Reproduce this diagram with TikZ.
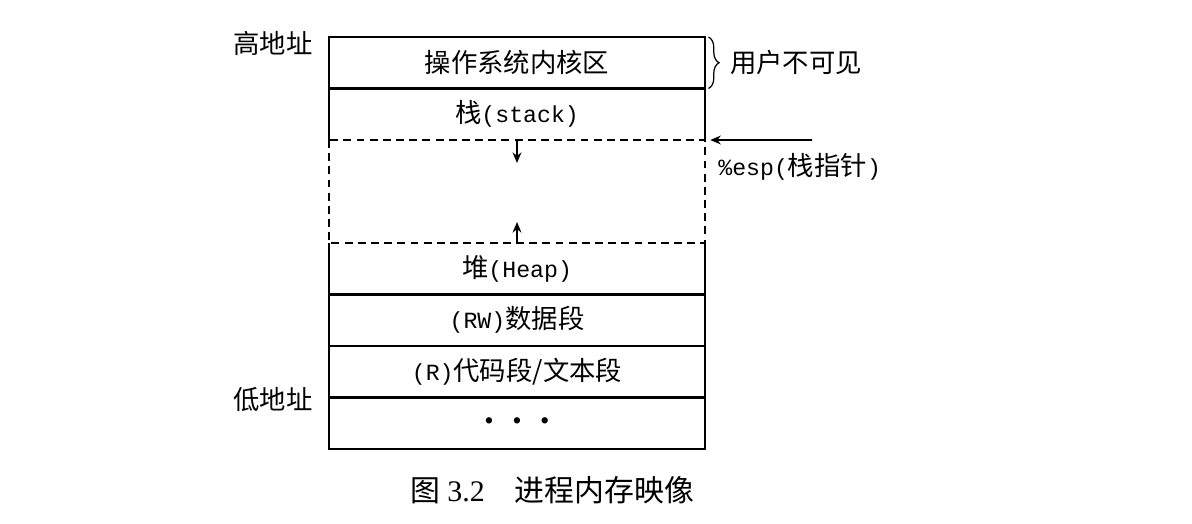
\documentclass[tikz,border=0pt]{standalone}
\usepackage{fontspec}
\setmainfont[Scale=0.88]{Liberation Mono}
\newfontfamily\cjk{Noto Sans CJK SC}
\newfontfamily\capfont{Liberation Serif}
\usetikzlibrary{positioning,arrows.meta,decorations.pathreplacing,calc}

\begin{document}
\begin{tikzpicture}[
    every node/.style={inner sep=0pt, font=\fontsize{15}{18}\selectfont},
    seg/.style={minimum width=7.52cm, minimum height=1.03cm, outer sep=0pt},
    frame/.style={line width=1.2pt},
    dashframe/.style={line width=1.2pt, dash pattern=on 4.5pt off 3pt},
    >={Stealth[length=6pt,width=5pt]}
]
\useasboundingbox (0,0) rectangle (23.84,-10.48);

% 内存各段
\node[seg] (kernel) at (10.34,-1.255) {\cjk 操作系统内核区};
\node[seg, below=0pt of kernel] (stack) {{\cjk 栈}(stack)};
\node[seg, minimum height=2.06cm, below=0pt of stack] (gap) {};
\node[seg, below=0pt of gap] (heap) {{\cjk 堆}(Heap)};
\node[seg, below=0pt of heap] (data) {(RW){\cjk 数据段}};
\node[seg, below=0pt of data] (code) {(R){\cjk 代码段/文本段}};
\node[seg, below=0pt of code] (dots) {• • •};

% 外框与分隔线
\draw[frame] (gap.north west) |- (kernel.north east) -- (gap.north east);
\draw[frame] (kernel.south west) -- (kernel.south east);
\draw[dashframe] (gap.north west) rectangle (gap.south east);
\draw[frame] (gap.south west) |- (dots.south east) -- (gap.south east);
\foreach \s in {heap,data,code}
    \draw[frame] (\s.south west) -- (\s.south east);

% 栈和堆的增长方向
\coordinate (stackend) at ($(gap.north)+(0,-0.46)$);
\coordinate (heapend) at ($(gap.south)+(0,0.42)$);
\draw[->, line width=1pt] (gap.north) -- (stackend);
\draw[->, line width=1pt] (gap.south) -- (heapend);

% 用户不可见
\draw[decorate, decoration={brace, amplitude=6pt}, line width=0.7pt]
    ([xshift=2pt]kernel.north east) -- ([xshift=2pt]kernel.south east)
    node[midway, right=12pt] (hidden) {\cjk 用户不可见};

% 栈指针
\coordinate (espsrc) at (16.24,-2.80);
\draw[->, line width=1pt] (espsrc) -- ([xshift=3pt]gap.north east);
\node[anchor=west] (esp) at ([xshift=0.26cm, yshift=-0.54cm]gap.north east) {\%esp({\cjk 栈指针})};

% 地址标注
\node[left=0.32cm of kernel.north west, yshift=-0.12cm] (high) {\cjk 高地址};
\node[left=0.32cm of dots.north west, yshift=-0.04cm] (low) {\cjk 低地址};

% 图题
\node[font=\fontsize{17}{20}\selectfont\capfont] (caption) at (11.04,-9.80)
    {{\cjk 图} 3.2\quad{\cjk 进程内存映像}};

\end{tikzpicture}
\end{document}
